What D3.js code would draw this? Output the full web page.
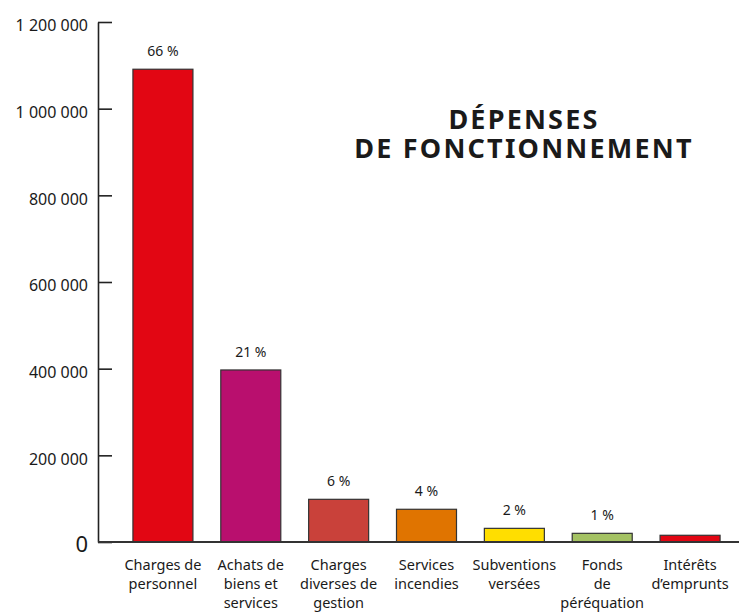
<!DOCTYPE html>
<html>
<head>
<meta charset="utf-8">
<script src="https://cdn.jsdelivr.net/npm/d3@7"></script>
<style>
   body { margin: 0; background: #ffffff; }
   svg text { font-family: "Noto Sans", "DejaVu Sans", sans-serif; fill: #1a1a1a; }
</style>
</head>
<body>
<div id="chartDiv"></div>
<script>
//----------------------------------------------------------------------------------------------------
var categories = [["Charges de", "personnel"],
                  ["Achats de", "biens et", "services"],
                  ["Charges", "diverses de", "gestion"],
                  ["Services", "incendies"],
                  ["Subventions", "versées"],
                  ["Fonds", "de", "péréquation"],
                  ["Intérêts", "d\u2019emprunts"]];
var amounts    = [1091000, 397000, 98500, 75500, 31500, 20000, 15500];
var percents   = ["66 %", "21 %", "6 %", "4 %", "2 %", "1 %", ""];
var barColors  = ["#e20613", "#b90f6e", "#c9413a", "#e07400", "#ffde00", "#a4c263", "#e20613"];
var yTicks     = [0, 200000, 400000, 600000, 800000, 1000000, 1200000];
var titleLines = ["DÉPENSES", "DE FONCTIONNEMENT"];

var width = 739;
var height = 613;
var baseY = 542;       // the zero line
var topY = 22;         // the 1 200 000 line
var axisX = 98;

//----------------------------------------------------------------------------------------------------
function drawChart()
{
   var svg = d3.select("#chartDiv")
      .append("svg")
      .attr("width", width)
      .attr("height", height);

   var frLocale = d3.formatLocale({decimal: ",", thousands: " ", grouping: [3], currency: ["", " €"]});
   var fmt = frLocale.format(",d");

   var yScale = d3.scaleLinear()
                  .domain([0, 1200000])
                  .range([baseY, topY]);

   var xScale = d3.scaleBand()
                  .domain(d3.range(categories.length))
                  .range([119, 734])
                  .paddingInner(0.317)
                  .paddingOuter(0.1585);

      // ticks point right, into the plot, labels stay to the left
   var yAxis = d3.axisLeft(yScale)
                 .tickValues(yTicks)
                 .tickFormat(fmt)
                 .tickSizeInner(-14)
                 .tickSizeOuter(0)
                 .tickPadding(10);

   var gy = svg.append("g")
      .attr("transform", "translate(" + axisX + ",0)")
      .call(yAxis);

   gy.select(".domain").attr("stroke", "#222").attr("stroke-width", 1.6);
   gy.selectAll(".tick line").attr("stroke", "#222").attr("stroke-width", 1.6);
   gy.selectAll(".tick text")
      .attr("font-size", function(d){ return d == 0 ? 22 : 16; })
      .attr("dy", function(d){ return d == 0 ? "0.42em" : "0.55em"; })
      .style("font-family", "'Noto Sans', sans-serif")
      .attr("fill", "#1a1a1a");

      // bars
   svg.selectAll("rect.bar")
      .data(amounts)
      .enter()
      .append("rect")
      .attr("class", "bar")
      .attr("x", function(d, i){ return xScale(i); })
      .attr("y", function(d){ return yScale(d); })
      .attr("width", xScale.bandwidth())
      .attr("height", function(d){ return yScale(0) - yScale(d); })
      .attr("fill", function(d, i){ return barColors[i]; })
      .attr("stroke", "#333")
      .attr("stroke-width", 1.2);

      // baseline runs out to the right edge
   svg.append("line")
      .attr("x1", axisX)
      .attr("x2", width)
      .attr("y1", yScale(0))
      .attr("y2", yScale(0))
      .attr("stroke", "#333")
      .attr("stroke-width", 1.8);

      // percentage labels above bars
   svg.selectAll("text.pct")
      .data(amounts)
      .enter()
      .append("text")
      .attr("class", "pct")
      .attr("x", function(d, i){ return xScale(i) + xScale.bandwidth() / 2; })
      .attr("y", function(d){ return yScale(d) - 13; })
      .attr("text-anchor", "middle")
      .attr("font-size", 14)
      .text(function(d, i){ return percents[i]; });

      // category labels, one tspan per line
   var cats = svg.selectAll("text.cat")
      .data(categories)
      .enter()
      .append("text")
      .attr("class", "cat")
      .attr("text-anchor", "middle")
      .attr("font-size", 14.5)
      .attr("x", function(d, i){ return xScale(i) + xScale.bandwidth() / 2; })
      .attr("y", 570);

   cats.selectAll("tspan")
      .data(function(d){ return d; })
      .enter()
      .append("tspan")
      .attr("x", function(){ return d3.select(this.parentNode).attr("x"); })
      .attr("dy", function(d, j){ return j == 0 ? 0 : 19; })
      .text(function(d){ return d; });

      // title: one text block, two lines; letter-spacing widens it toward the original face
   var title = svg.append("text")
      .attr("class", "title")
      .attr("x", 524)
      .attr("y", 129)
      .attr("text-anchor", "middle")
      .attr("font-size", 27)
      .attr("font-weight", "bold")
      .attr("letter-spacing", 2.2)
      .attr("fill", "#111");

   title.selectAll("tspan")
      .data(titleLines)
      .enter()
      .append("tspan")
      .attr("x", 524)
      .attr("dy", function(d, i){ return i == 0 ? 0 : 29; })
      .text(function(d){ return d; });

} // drawChart
//----------------------------------------------------------------------------------------------------
drawChart();

</script>
</body>
</html>
